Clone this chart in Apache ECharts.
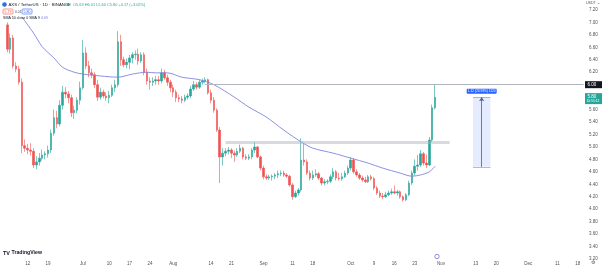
<!DOCTYPE html>
<html><head><meta charset="utf-8">
<script src="https://cdn.jsdelivr.net/npm/echarts@6/dist/echarts.min.js"></script>
<style>html,body{margin:0;padding:0;background:#fff}#c{width:602px;height:267px}</style>
</head><body><div id="c"></div>
<script>
const symbolTitle = 'AXS / TetherUS · 1D · BINANCE';
const ohlcText = 'O5.63 H6.01 L5.60 C5.80 +0.17 (+3.02%)';
const smaLegend = 'SMA 50 close 0 SMA 9';
const firstDay = [2023, 5, 3], lastDay = [2023, 11, 20];
const candleStart = '2023-06-05';
const opens = [6.96,6.57,6.75,6.30,6.25,6.04,5.02, 4.98,4.95,4.93,4.71,4.76,4.82,4.87, 4.89,4.95,5.22,5.47,5.37,5.67,5.88, 5.85,5.79,5.55,5.59,5.75,5.95,6.51, 6.30,6.19,6.16,6.00,5.80,5.88,5.82, 5.79,5.83,5.95,6.00,6.69,6.40,6.32, 6.36,6.43,6.48,6.49,6.38,6.48,6.20, 6.06,6.04,6.06,6.08,6.06,6.19,6.11, 6.04,5.95,5.88,5.79,5.77,5.75,5.80, 5.82,5.93,6.00,5.96,6.04,6.06,6.08, 5.87,5.75,5.59,5.27,4.84,4.90,4.93, 4.95,4.90,4.87,4.93,4.98,4.84,4.82, 4.84,4.95,5.00,4.84,4.66,4.52,4.50, 4.52,4.53,4.55,4.57,4.58,4.55,4.53, 4.39,4.20,4.26,4.31,4.79,4.76,4.58, 4.50,4.55,4.57,4.50,4.42,4.44,4.45, 4.52,4.60,4.50,4.49,4.52,4.58,4.66, 4.79,4.60,4.55,4.50,4.47,4.44,4.52, 4.49,4.34,4.26,4.21,4.20,4.23,4.26, 4.28,4.26,4.28,4.20,4.15,4.23,4.42, 4.58,4.69,4.71,4.89,4.74,4.71,5.11, 5.63];
const closes = [6.57,6.75,6.30,6.25,6.04,5.02,4.98, 4.95,4.93,4.71,4.76,4.82,4.87,4.89, 4.95,5.22,5.47,5.37,5.67,5.88,5.85, 5.79,5.55,5.59,5.75,5.95,6.51,6.30, 6.19,6.16,6.00,5.80,5.88,5.82,5.79, 5.83,5.95,6.00,6.69,6.40,6.32,6.36, 6.43,6.48,6.49,6.38,6.48,6.20,6.06, 6.04,6.06,6.08,6.06,6.19,6.11,6.04, 5.95,5.88,5.79,5.77,5.75,5.80,5.82, 5.93,6.00,5.96,6.04,6.06,6.08,5.87, 5.75,5.59,5.27,4.84,4.90,4.93,4.95, 4.90,4.87,4.93,4.98,4.84,4.82,4.84, 4.95,5.00,4.84,4.66,4.52,4.50,4.52, 4.53,4.55,4.57,4.58,4.55,4.53,4.39, 4.20,4.26,4.31,4.79,4.76,4.58,4.50, 4.55,4.57,4.50,4.42,4.44,4.45,4.52, 4.60,4.50,4.49,4.52,4.58,4.66,4.79, 4.60,4.55,4.50,4.47,4.44,4.52,4.49, 4.34,4.26,4.21,4.20,4.23,4.26,4.28, 4.26,4.28,4.20,4.15,4.23,4.42,4.58, 4.69,4.71,4.89,4.74,4.71,5.11,5.63, 5.80];
const highs = [7.00,6.82,6.80,6.36,6.30,6.10,5.12, 5.05,5.06,4.98,4.85,4.90,4.96,4.93, 5.02,5.28,5.60,5.58,5.75,5.98,5.96, 5.90,5.84,5.66,5.80,6.05,6.72,6.60, 6.38,6.26,6.20,6.08,5.95,5.92,5.88, 5.90,6.00,6.08,6.86,6.80,6.45,6.42, 6.48,6.52,6.55,6.58,6.52,6.52,6.26, 6.12,6.12,6.14,6.14,6.26,6.24,6.16, 6.08,6.00,5.92,5.84,5.82,5.84,5.86, 5.98,6.06,6.04,6.08,6.10,6.12,6.10, 5.92,5.80,5.62,5.32,4.98,4.98,5.00, 4.98,4.94,4.98,5.04,5.00,4.88,4.88, 4.98,5.08,5.02,4.86,4.70,4.56,4.55, 4.56,4.58,4.62,4.62,4.62,4.58,4.55, 4.42,4.30,4.34,5.14,5.06,4.80,4.62, 4.62,4.64,4.60,4.52,4.48,4.48,4.56, 4.66,4.63,4.58,4.58,4.62,4.70,4.84, 4.82,4.64,4.58,4.54,4.52,4.55,4.55, 4.52,4.37,4.30,4.26,4.28,4.30,4.33, 4.38,4.31,4.30,4.22,4.26,4.46,4.62, 4.80,4.87,4.95,4.92,4.88,5.16,5.68, 6.01];
const lows = [6.52,6.50,6.26,6.20,6.00,4.90,4.92, 4.88,4.86,4.66,4.64,4.70,4.78,4.80, 4.83,4.90,5.18,5.30,5.33,5.60,5.78, 5.70,5.48,5.45,5.54,5.68,5.92,6.25, 6.12,6.10,5.95,5.74,5.76,5.78,5.74, 5.70,5.80,5.88,5.96,6.30,6.28,6.26, 6.25,6.34,6.40,6.32,6.35,6.15,6.00, 5.92,5.98,6.00,6.00,6.02,6.08,5.98, 5.88,5.80,5.72,5.72,5.70,5.72,5.76, 5.78,5.90,5.92,5.93,6.00,6.02,5.84, 5.70,5.55,5.24,4.42,4.70,4.85,4.88, 4.82,4.76,4.84,4.90,4.80,4.79,4.79, 4.80,4.90,4.82,4.62,4.48,4.47,4.47, 4.46,4.48,4.50,4.53,4.52,4.50,4.36, 4.15,4.18,4.22,4.28,4.70,4.55,4.46, 4.47,4.52,4.47,4.38,4.38,4.40,4.42, 4.48,4.46,4.46,4.46,4.50,4.55,4.62, 4.57,4.52,4.47,4.44,4.42,4.42,4.46, 4.31,4.23,4.18,4.16,4.18,4.21,4.23, 4.24,4.22,4.17,4.12,4.13,4.21,4.39, 4.54,4.62,4.68,4.70,4.66,4.69,5.08, 5.60];
const smaDates = ['2023-06-10','2023-06-14','2023-06-17','2023-06-21','2023-06-24','2023-06-28','2023-07-01','2023-07-07','2023-07-13','2023-07-18','2023-07-23','2023-07-26','2023-07-30','2023-08-04','2023-08-10','2023-08-15','2023-08-22','2023-08-27','2023-09-02','2023-09-08','2023-09-14','2023-09-18','2023-09-25','2023-10-01','2023-10-07','2023-10-12','2023-10-18','2023-10-22','2023-10-25','2023-10-28','2023-10-30'];
const smaValues = [7.09,6.83,6.61,6.43,6.28,6.20,6.17,6.14,6.12,6.17,6.20,6.19,6.19,6.12,6.08,6.00,5.80,5.64,5.48,5.27,5.08,4.98,4.90,4.82,4.74,4.66,4.58,4.53,4.55,4.60,4.69];
const tickDates = ['2023-06-12','2023-06-19','2023-07-01','2023-07-10','2023-07-17','2023-07-24','2023-08-01','2023-08-14','2023-08-21','2023-09-01','2023-09-11','2023-09-18','2023-10-01','2023-10-09','2023-10-16','2023-10-23','2023-11-01','2023-11-13','2023-11-20','2023-12-01','2023-12-11','2023-12-18'];
const tickLabels = ['12','19','Jul','10','17','24','Aug','14','21','Sep','11','18','Oct','9','16','23','Nov','13','20','Dec','11','18'];
const yMin = 3.2, yMax = 7.36, yStep = 0.2;
const hLinePrice = 6.00, hLineFrom = '2023-08-12';
const bandPrice = 5.07, bandFrom = '2023-08-19', bandTo = '2023-11-04';
const rangeFrom = '2023-11-12', rangeTo = '2023-11-18', rangeMid = '2023-11-15', rangeLow = 4.68, rangeHigh = 5.80;
const rangeText = '1.12 (23.93%) 1120';
const lastPrice = 5.80, lastPriceText = '5.80', countdown = '10:55:12', hLineText = '6.00';
const sellText = '5.79', spreadText = '0.01', buyText = '5.80', smaLast = '4.69';

const cats = [];
for (let t = Date.UTC(...firstDay); t <= Date.UTC(...lastDay); t += 86400000) cats.push(new Date(t).toISOString().slice(0, 10));
const lastCat = cats[cats.length - 1];
const sIdx = cats.indexOf(candleStart);
const candleData = cats.map((d, i) => { const k = i - sIdx; return (k >= 0 && k < opens.length) ? [opens[k], closes[k], lows[k], highs[k]] : '-'; });
const smaMap = {}; smaDates.forEach((d, i) => smaMap[d] = smaValues[i]);
const smaData = cats.map(d => (d in smaMap) ? smaMap[d] : null);
const tickMap = {}; tickDates.forEach((d, i) => tickMap[d] = tickLabels[i]);
const isTick = (idx, val) => val in tickMap;

const UP = '#26a69a', DOWN = '#ef5350', FONT = 'Liberation Sans, Arial, sans-serif';
const chart = echarts.init(document.getElementById('c'), null, {renderer: 'canvas'});
chart.setOption({
  animation: false,
  backgroundColor: '#ffffff',
  textStyle: {fontFamily: FONT},
  grid: {left: 0, right: 17, top: 0, bottom: 8},
  xAxis: {type: 'category', data: cats, boundaryGap: true,
    axisLine: {show: false}, axisTick: {show: false},
    axisLabel: {interval: isTick, formatter: v => tickMap[v] || '', fontSize: 4.5, color: '#50535e', margin: 2},
    splitLine: {show: false}},
  yAxis: {type: 'value', position: 'right', min: yMin, max: yMax, interval: yStep, scale: true,
    axisLine: {show: false}, axisTick: {show: false},
    axisLabel: {showMaxLabel: false, formatter: v => v.toFixed(2), fontSize: 4.5, color: '#50535e', margin: 4},
    splitLine: {show: false}},
  series: [
    {type: 'candlestick', data: candleData, barWidth: 2,
      itemStyle: {color: UP, color0: DOWN, borderColor: UP, borderColor0: DOWN, borderWidth: 0.6},
      markLine: {silent: true, symbol: 'none', label: {show: false},
        data: [
          [{coord: [hLineFrom, hLinePrice], lineStyle: {color: '#b2b5be', width: 1, type: 'solid'}}, {coord: [lastCat, hLinePrice]}],
          [{coord: [bandFrom, bandPrice], lineStyle: {color: 'rgba(170,174,186,0.45)', width: 3, type: 'solid'}}, {coord: [bandTo, bandPrice]}],
          [{coord: [rangeFrom, rangeHigh], lineStyle: {color: 'rgba(41,98,255,0.55)', width: 0.8, type: 'solid'}}, {coord: [rangeTo, rangeHigh]}],
          [{coord: [rangeFrom, rangeLow], lineStyle: {color: 'rgba(41,98,255,0.55)', width: 0.8, type: 'solid'}}, {coord: [rangeTo, rangeLow]}],
          [{coord: [rangeMid, rangeLow], symbol: 'none', lineStyle: {color: '#4a5f8f', width: 0.8, type: 'solid'}}, {coord: [rangeMid, rangeHigh], symbol: 'arrow', symbolSize: 4}]
        ]},
      markArea: {silent: true, itemStyle: {color: 'rgba(41,98,255,0.12)'},
        data: [[{coord: [rangeFrom, rangeLow]}, {coord: [rangeTo, rangeHigh]}]]}
    },
    {type: 'line', data: smaData, connectNulls: true, smooth: 0.3, showSymbol: false,
      lineStyle: {color: '#7f84dc', width: 0.9}, z: 3}
  ]
});

const yPx = v => chart.convertToPixel({yAxisIndex: 0}, v);
const xPx = d => chart.convertToPixel({xAxisIndex: 0}, d);
const rxMid = xPx(rangeMid), ryTop = yPx(rangeHigh);
const yh = yPx(hLinePrice), yl = yPx(lastPrice);
const T = (x, y, text, size, color, extra) => ({type: 'text', x, y, style: Object.assign({text, fontSize: size, fill: color, fontFamily: FONT, verticalAlign: 'middle'}, extra || {}), z: 100});
chart.setOption({graphic: [
  {type: 'circle', shape: {cx: 4.5, cy: 4.5, r: 2.3}, style: {fill: '#2f6fd8'}, z: 100},
  T(8.5, 4.6, symbolTitle, 4.3, '#131722'),
  {type: 'circle', shape: {cx: 68, cy: 4.6, r: 1.3}, style: {fill: UP}, z: 100},
  T(73, 4.6, ohlcText, 3.9, UP),
  {type: 'rect', shape: {x: 3, y: 9, width: 10, height: 5, r: 1}, style: {fill: '#fff', stroke: DOWN, lineWidth: 0.6}, z: 100},
  T(4.5, 11.6, sellText, 3.6, DOWN),
  T(15, 11.6, spreadText, 3.4, '#50535e'),
  {type: 'rect', shape: {x: 22, y: 9, width: 10, height: 5, r: 1}, style: {fill: '#fff', stroke: '#2962ff', lineWidth: 0.6}, z: 100},
  T(23.5, 11.6, buyText, 3.6, '#2962ff'),
  T(3, 17.8, smaLegend, 3.6, '#131722'),
  T(41, 17.8, smaLast, 3.6, '#7f84dc'),
  T(586, 3.2, 'USDT ⌄', 3.6, '#50535e'),
  {type: 'rect', shape: {x: rxMid - 15, y: ryTop - 8.5, width: 30, height: 5, r: 0.8}, style: {fill: '#2962ff'}, z: 100},
  T(rxMid, ryTop - 6, rangeText, 3.2, '#ffffff', {align: 'center'}),
  {type: 'rect', shape: {x: 585, y: yh - 3.5, width: 17, height: 7}, style: {fill: '#131722'}, z: 100},
  T(587.5, yh, hLineText, 4.5, '#ffffff'),
  {type: 'rect', shape: {x: 585, y: yl - 4, width: 17, height: 11}, style: {fill: UP}, z: 100},
  T(587.5, yl - 0.5, lastPriceText, 4.5, '#ffffff'),
  T(586.5, yl + 4, countdown, 3.3, '#ffffff'),
  {type: 'circle', shape: {cx: 437, cy: 256.5, r: 2.2}, style: {fill: '#fff', stroke: '#7e6fd6', lineWidth: 0.8}, z: 100},
  T(3, 253, 'TV', 5.5, '#131722', {fontWeight: 'bold'}),
  T(11.5, 253, 'TradingView', 5.2, '#131722', {fontWeight: 'bold'}),
  T(590.5, 263, '⚙', 5, '#50535e')
]});
</script></body></html>
